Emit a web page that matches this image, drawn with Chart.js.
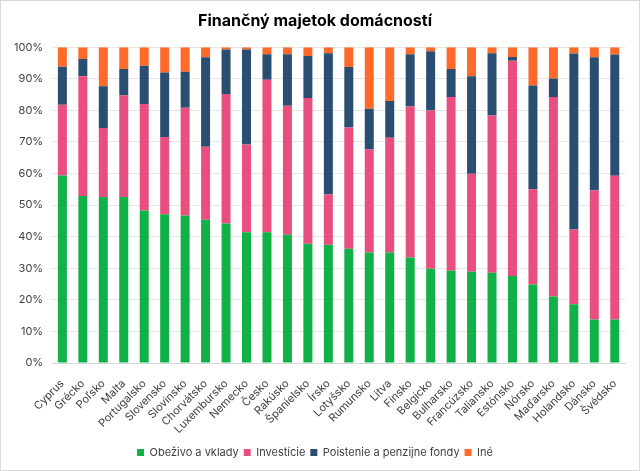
<!DOCTYPE html>
<html>
<head>
<meta charset="utf-8">
<script src="https://cdn.jsdelivr.net/npm/chart.js@4/dist/chart.umd.min.js"></script>
<style>
  html, body { margin: 0; padding: 0; background: #fff; }
  #wrap { position: absolute; left: 0; top: 0; width: 638px; height: 469px; border: 1px solid #d9d9d9; }
  canvas { display: block; }
</style>
</head>
<body>
<div id="wrap"><canvas id="c" width="638" height="469"></canvas></div>
<script>
const categories = ["Cyprus","Grécko","Poľsko","Malta","Portugalsko","Slovensko","Slovinsko","Chorvátsko","Luxembursko","Nemecko","Česko","Rakúsko","Španielsko","Írsko","Lotyšsko","Rumunsko","Litva","Fínsko","Belgicko","Bulharsko","Francúzsko","Taliansko","Estónsko","Nórsko","Maďarsko","Holandsko","Dánsko","Švédsko"];
const obezivo   = [59.4,52.9,52.6,52.6,48.3,47.1,46.7,45.4,44.2,41.4,41.4,40.6,37.8,37.5,36.2,35.0,35.0,33.4,29.9,29.2,28.9,28.6,27.6,24.9,21.1,18.6,13.8,13.8];
const investicie= [22.4,37.9,21.8,32.2,33.7,24.5,34.1,23.1,41.0,27.8,48.3,40.9,46.1,15.9,38.4,32.6,36.3,47.8,50.1,55.0,31.0,49.8,68.1,30.1,63.1,23.7,40.9,45.5];
const poistenie = [12.0, 5.5,13.2, 8.3,12.1,20.4,11.4,28.3,14.1,30.1, 8.1,16.3,13.3,44.7,19.1,12.9,11.7,16.6,18.7, 8.9,30.9,19.7, 1.2,32.9, 5.9,55.7,42.1,38.4];
const ine       = [ 6.2, 3.7,12.4, 6.9, 5.9, 8.0, 7.8, 3.2, 0.7, 0.7, 2.2, 2.2, 2.8, 1.9, 6.3,19.5,17.0, 2.2, 1.3, 6.9, 9.2, 1.9, 3.1,12.1, 9.9, 2.0, 3.2, 2.3];
const seriesNames = ["Obeživo a vklady","Investície","Poistenie a penzijne fondy","Iné"];
const yTicks = [0,10,20,30,40,50,60,70,80,90,100];
const titleText = "Finančný majetok domácností";

const colors = ["#10b146","#e84f7f","#2a4e72","#ff6a2b"];
const seriesData = [obezivo, investicie, poistenie, ine];

Chart.defaults.font.family = "Inter, 'Noto Sans', sans-serif";
Chart.defaults.color = "#595959";

new Chart(document.getElementById('c'), {
  type: 'bar',
  data: {
    labels: categories,
    datasets: seriesNames.map((n, i) => ({
      label: n,
      data: seriesData[i],
      backgroundColor: colors[i],
      borderWidth: 0,
      barPercentage: 0.44,
      categoryPercentage: 1.0
    }))
  },
  options: {
    responsive: false,
    animation: false,
    layout: { padding: { left: 4, right: 14, top: 4, bottom: 2 } },
    plugins: {
      title: {
        display: true,
        text: titleText,
        color: "#000",
        font: { size: 16, weight: 'bold' },
        padding: { top: 7, bottom: 16 }
      },
      legend: {
        position: 'bottom',
        labels: { boxWidth: 7, boxHeight: 7, font: { size: 11 }, color: "#404040", padding: 5 }
      },
      tooltip: { enabled: false }
    },
    scales: {
      x: {
        stacked: true,
        grid: { display: false },
        border: { color: "#d9d9d9" },
        ticks: { maxRotation: 45, minRotation: 45, autoSkip: false, font: { size: 11 }, color: "#404040", padding: 6 }
      },
      y: {
        stacked: true,
        min: 0, max: 100,
        afterBuildTicks: (ax) => { ax.ticks = yTicks.map(v => ({ value: v })); },
        grid: { color: "#e6e6e6", drawTicks: false },
        border: { display: false },
        ticks: { callback: v => v + "%", font: { size: 11 }, color: "#404040", padding: 9 }
      }
    }
  }
});
</script>
</body>
</html>
